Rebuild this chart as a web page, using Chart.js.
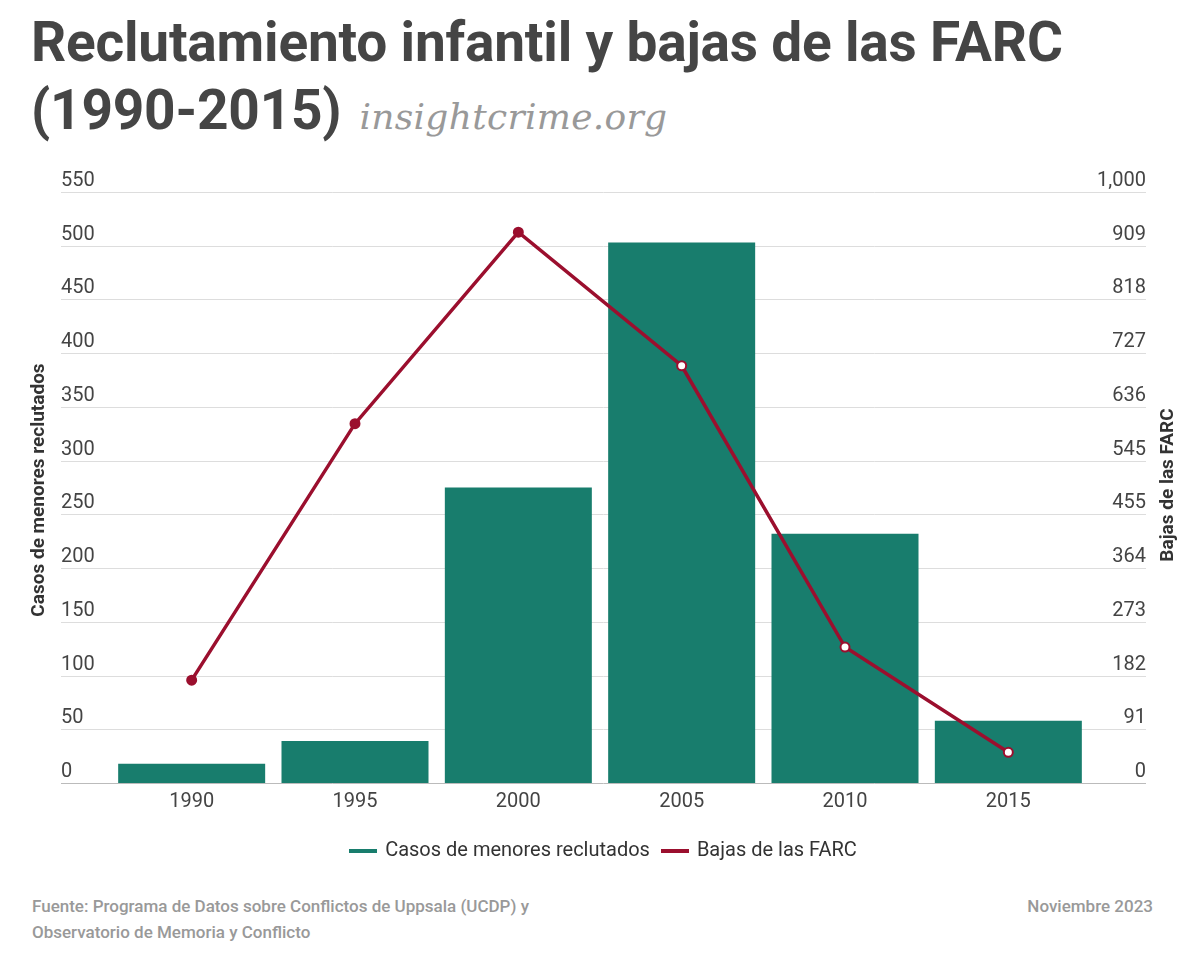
<!DOCTYPE html>
<html><head><meta charset="utf-8">
<script src="https://cdn.jsdelivr.net/npm/chart.js@4"></script>
<style>
body{margin:0;width:1200px;height:960px;background:#fff;font-family:Roboto,sans-serif;position:relative;overflow:hidden}
h1{position:absolute;left:31px;top:8px;margin:0;font-size:55px;line-height:68px;font-weight:700;color:#454545;letter-spacing:-0.2px}
h1 span{font-family:"DejaVu Serif",serif;font-style:italic;font-weight:400;font-size:36px;color:#999;margin-left:18px;letter-spacing:0.3px}
#wrap{position:absolute;left:0;top:160px;width:1200px;height:680px}
#legend{position:absolute;top:837px;left:0;width:1200px;text-align:center;font-size:20px;color:#333}
#legend i{display:inline-block;width:28px;height:4px;vertical-align:middle;margin:0 8px 0 6px}
.foot{position:absolute;top:893px;font-size:17px;color:#999;line-height:26px;font-weight:500}
</style></head><body>
<h1>Reclutamiento infantil y bajas de las FARC<br>(1990-2015)<span>insightcrime.org</span></h1>
<div id="wrap"><canvas id="c"></canvas></div>
<div id="legend"><i style="background:#187d6d"></i>Casos de menores reclutados <i style="background:#9b0f2e"></i>Bajas de las FARC</div>
<div class="foot" style="left:32px">Fuente: Programa de Datos sobre Conflictos de Uppsala (UCDP) y<br>Observatorio de Memoria y Conflicto</div>
<div class="foot" style="right:47px">Noviembre 2023</div>
<script>
const years = ['1990', '1995', '2000', '2005', '2010', '2015'];
const recruited = [18, 39, 275, 503, 232, 58];
const casualties = [174, 608, 932, 706, 230, 52];
const leftTicks = [0, 50, 100, 150, 200, 250, 300, 350, 400, 450, 500, 550];
const rightTicks = ['0', '91', '182', '273', '364', '455', '545', '636', '727', '818', '909', '1,000'];
const pointFill = ['#9b0f2e', '#9b0f2e', '#9b0f2e', '#fff', '#fff', '#fff'];

const axisPlugin = {
    id: 'axisLabels',
    beforeDatasetsDraw(chart) {
        const ctx = chart.ctx, y = chart.scales.y;
        ctx.save();
        ctx.font = '20px Roboto';
        ctx.fillStyle = '#444';
        ctx.textBaseline = 'bottom';
        leftTicks.forEach((v, i) => {
            const py = Math.round(y.getPixelForValue(v)) + 0.5;
            ctx.strokeStyle = i === 0 ? '#bbb' : '#ddd';
            ctx.lineWidth = 1;
            ctx.beginPath(); ctx.moveTo(61, py); ctx.lineTo(1146, py); ctx.stroke();
            ctx.textAlign = 'left';
            ctx.fillText(String(v), 61, py - 2);
            ctx.textAlign = 'right';
            ctx.fillText(rightTicks[i], 1146, py - 2);
        });
        ctx.font = 'bold 19px Roboto';
        ctx.fillStyle = '#333';
        ctx.textAlign = 'center';
        ctx.textBaseline = 'middle';
        ctx.save(); ctx.translate(39, 330); ctx.rotate(-Math.PI / 2);
        ctx.fillText('Casos de menores reclutados', 0, 0); ctx.restore();
        ctx.save(); ctx.translate(1168, 325); ctx.rotate(-Math.PI / 2);
        ctx.fillText('Bajas de las FARC', 0, 0); ctx.restore();
        ctx.font = '20px Roboto';
        ctx.fillStyle = '#444';
        ctx.textBaseline = 'top';
        years.forEach((yr, i) => ctx.fillText(yr, chart.scales.x.getPixelForValue(i), chart.chartArea.bottom + 9));
        ctx.restore();
    }
};

new Chart(document.getElementById('c'), {
    data: {
        labels: years,
        datasets: [
            { type: 'line', label: 'Bajas de las FARC', data: casualties, yAxisID: 'y2', borderColor: '#9b0f2e', borderWidth: 3.5,
              pointBackgroundColor: pointFill, pointBorderColor: '#9b0f2e', pointBorderWidth: 2, pointRadius: 4.5, order: 0 },
            { type: 'bar', label: 'Casos de menores reclutados', data: recruited, yAxisID: 'y', backgroundColor: '#187d6d',
              barPercentage: 0.9, categoryPercentage: 1, order: 1 }
        ]
    },
    options: {
        responsive: true, maintainAspectRatio: false, animation: false,
        layout: { padding: { left: 110, right: 110, top: 32, bottom: 57 } },
        plugins: { legend: { display: false }, tooltip: { enabled: false } },
        scales: {
            x: { display: false },
            y: { display: false, min: 0, max: 550 },
            y2: { display: false, min: 0, max: 1000, position: 'right' }
        }
    },
    plugins: [axisPlugin]
});
</script>
</body></html>
